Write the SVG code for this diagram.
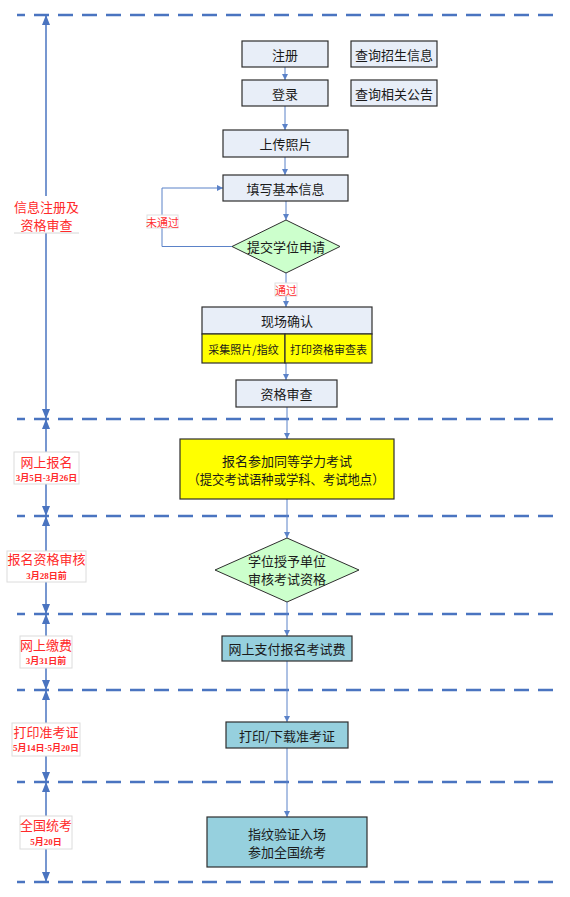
<svg xmlns="http://www.w3.org/2000/svg" width="570" height="897" viewBox="0 0 570 897">
<style>
text{font-family:"Noto Sans CJK SC","Liberation Sans",sans-serif;fill:#1a1a1a;text-anchor:middle;dominant-baseline:central}
.n{font-size:13px}
.s{font-size:11px}
.lbl{font-size:13px;fill:#ff2a2a}
.dt{font-size:9px;font-weight:bold;fill:#ff2a2a;font-family:"Liberation Serif","Noto Sans CJK SC",serif}
.tag{font-size:11px;fill:#ff3030}
.box{fill:#e8eef8;stroke:#2e2e2e;stroke-width:1.2}
.yel{fill:#ffff00;stroke:#2e2e2e;stroke-width:1.2}
.teal{fill:#96d0de;stroke:#2e2e2e;stroke-width:1.2}
.dia{fill:#ccffcc;stroke:#2e2e2e;stroke-width:1}
.lb{fill:#ffffff;stroke:#dcdcdc;stroke-width:1}
.sep{stroke:#4a74c0;stroke-width:2.5;stroke-dasharray:15 9;stroke-dashoffset:7;fill:none}
.tl{stroke:#4a74c0;stroke-width:1.5;fill:none;marker-start:url(#big);marker-end:url(#big)}
.c{stroke:#5b82c8;stroke-width:1;fill:none;marker-end:url(#sm)}
</style>
<defs>
<marker id="big" viewBox="0 0 10 8" refX="10" refY="4" markerWidth="10" markerHeight="8" markerUnits="userSpaceOnUse" orient="auto-start-reverse"><path d="M0,0 L10,4 L0,8 z" fill="#4a74c0"/></marker>
<marker id="sm" viewBox="0 0 6 6" refX="6" refY="3" markerWidth="6" markerHeight="6" markerUnits="userSpaceOnUse" orient="auto"><path d="M0,0 L6,3 L0,6 z" fill="#5b82c8"/></marker>
</defs>

<g id="separators">
<line class="sep" x1="17" y1="15" x2="555" y2="15"/>
<line class="sep" x1="17" y1="419" x2="555" y2="419"/>
<line class="sep" x1="17" y1="516" x2="555" y2="516"/>
<line class="sep" x1="17" y1="614" x2="555" y2="614"/>
<line class="sep" x1="17" y1="690" x2="555" y2="690"/>
<line class="sep" x1="17" y1="782" x2="555" y2="782"/>
<line class="sep" x1="17" y1="882" x2="555" y2="882"/>
</g>

<g id="timeline">
<line class="tl" x1="46" y1="15" x2="46" y2="419"/>
<line class="tl" x1="46" y1="419" x2="46" y2="516"/>
<line class="tl" x1="46" y1="516" x2="46" y2="614"/>
<line class="tl" x1="46" y1="614" x2="46" y2="690"/>
<line class="tl" x1="46" y1="690" x2="46" y2="782"/>
<line class="tl" x1="46" y1="782" x2="46" y2="882"/>
</g>

<g id="phase1">
<rect x="14" y="196" width="65" height="37" fill="#ffffff"/>
<line x1="14" y1="233" x2="79" y2="233" stroke="#d6d6d6" stroke-width="1"/>
<text class="lbl" x="46.5" y="206">信息注册及</text>
<text class="lbl" x="46.5" y="224">资格审查</text>
</g>
<g id="phase2">
<rect class="lb" x="14" y="452" width="65" height="32"/>
<text class="lbl" x="46.5" y="461">网上报名</text>
<text class="dt" x="46.5" y="478">3月5日-3月26日</text>
</g>
<g id="phase3">
<rect class="lb" x="7" y="551" width="79" height="31"/>
<text class="lbl" x="46.5" y="558">报名资格审核</text>
<text class="dt" x="46.5" y="576">3月28日前</text>
</g>
<g id="phase4">
<rect class="lb" x="20" y="636" width="52" height="32"/>
<text class="lbl" x="46" y="644">网上缴费</text>
<text class="dt" x="46" y="661">3月31日前</text>
</g>
<g id="phase5">
<rect class="lb" x="12" y="723" width="68" height="33"/>
<text class="lbl" x="46" y="731">打印准考证</text>
<text class="dt" x="46" y="748">5月14日-5月20日</text>
</g>
<g id="phase6">
<rect class="lb" x="20" y="816" width="52" height="33"/>
<text class="lbl" x="46" y="824">全国统考</text>
<text class="dt" x="46" y="842">5月20日</text>
</g>

<g id="connectors">
<line class="c" x1="285" y1="67" x2="285" y2="80"/>
<line class="c" x1="285" y1="106" x2="285" y2="130"/>
<line class="c" x1="285" y1="157" x2="285" y2="175"/>
<line class="c" x1="286" y1="201" x2="286" y2="220"/>
<polyline class="c" points="232,246.5 162,246.5 162,188 223,188"/>
<line class="c" x1="286" y1="273" x2="286" y2="307"/>
<line class="c" x1="286" y1="363" x2="286" y2="380"/>
<line class="c" x1="287" y1="407" x2="287" y2="439"/>
<line class="c" x1="287" y1="499" x2="287" y2="538"/>
<line class="c" x1="287" y1="602" x2="287" y2="636"/>
<line class="c" x1="287" y1="661" x2="287" y2="722"/>
<line class="c" x1="287" y1="748" x2="287" y2="817"/>
<g id="label-fail">
<rect x="147" y="215" width="31" height="13" fill="#ffffff" stroke="#e0e0e0" stroke-width="1"/>
<text class="tag" x="162.5" y="221.5">未通过</text>
</g>
<g id="label-pass">
<rect x="275" y="283" width="22" height="13" fill="#ffffff" stroke="#e0e0e0" stroke-width="1"/>
<text class="tag" x="286" y="289.5">通过</text>
</g>
</g>

<g id="n-register">
<rect class="box" x="242" y="41" width="86" height="26"/>
<text class="n" x="285" y="54">注册</text>
</g>
<g id="n-query1">
<rect class="box" x="351" y="41" width="86" height="26"/>
<text class="n" x="394" y="54">查询招生信息</text>
</g>
<g id="n-login">
<rect class="box" x="242" y="80" width="86" height="26"/>
<text class="n" x="285" y="93">登录</text>
</g>
<g id="n-query2">
<rect class="box" x="351" y="80" width="86" height="26"/>
<text class="n" x="394" y="93">查询相关公告</text>
</g>
<g id="n-photo">
<rect class="box" x="223" y="130" width="125" height="27"/>
<text class="n" x="285.5" y="143.5">上传照片</text>
</g>
<g id="n-info">
<rect class="box" x="223" y="175" width="125" height="26"/>
<text class="n" x="285.5" y="188">填写基本信息</text>
</g>
<g id="n-submit">
<polygon class="dia" points="286,220 340,246.5 286,273 232,246.5"/>
<text class="n" x="286" y="246.5">提交学位申请</text>
</g>
<g id="n-confirm">
<rect class="box" x="202" y="307" width="170" height="27"/>
<text class="n" x="287" y="320.5">现场确认</text>
<rect class="yel" x="202" y="334" width="83" height="29"/>
<rect class="yel" x="285" y="334" width="87" height="29"/>
<text class="s" x="243.5" y="348.5">采集照片/指纹</text>
<text class="s" x="328.5" y="348.5">打印资格审查表</text>
</g>
<g id="n-review">
<rect class="box" x="236" y="380" width="101" height="27"/>
<text class="n" x="286.5" y="393.5">资格审查</text>
</g>
<g id="n-apply">
<rect class="yel" x="180" y="439" width="214" height="60"/>
<text class="n" x="287" y="460">报名参加同等学力考试</text>
<text class="n" x="286" y="478" textLength="197" lengthAdjust="spacingAndGlyphs">（提交考试语种或学科、考试地点）</text>
</g>
<g id="n-audit">
<polygon class="dia" points="287,538 359,570 287,602 215,570"/>
<text class="n" x="287" y="560">学位授予单位</text>
<text class="n" x="287" y="578">审核考试资格</text>
</g>
<g id="n-pay">
<rect class="teal" x="222" y="636" width="130" height="25"/>
<text class="n" x="287" y="648.5">网上支付报名考试费</text>
</g>
<g id="n-print">
<rect class="teal" x="226" y="722" width="122" height="26"/>
<text class="n" x="287" y="735">打印/下载准考证</text>
</g>
<g id="n-exam">
<rect class="teal" x="207" y="817" width="160" height="50"/>
<text class="n" x="287" y="833">指纹验证入场</text>
<text class="n" x="287" y="851">参加全国统考</text>
</g>
</svg>
